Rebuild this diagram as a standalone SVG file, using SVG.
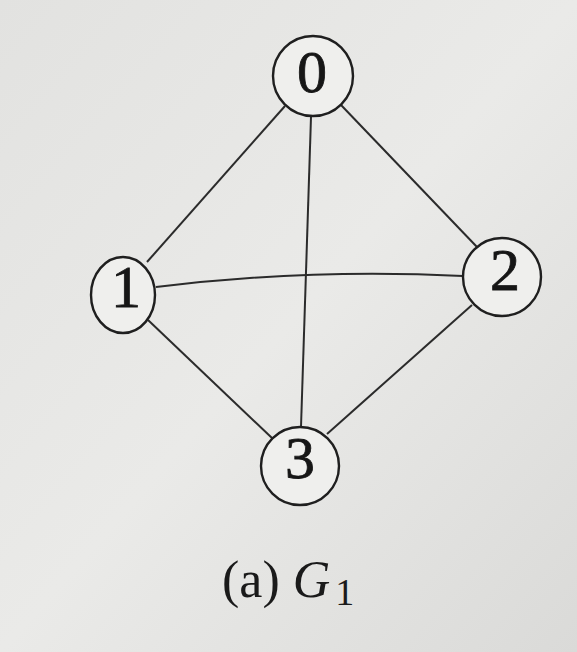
<svg xmlns="http://www.w3.org/2000/svg" width="577" height="652" viewBox="0 0 577 652">
<defs>
<linearGradient id="bg" x1="0" y1="0" x2="1" y2="1">
<stop offset="0" stop-color="#e2e2e0"/>
<stop offset="0.5" stop-color="#eaeae8"/>
<stop offset="1" stop-color="#dadad8"/>
</linearGradient>
</defs>
<style>
.edge{stroke:#2b2b2b;stroke-width:2;fill:none}
.node{stroke:#1f1f1f;stroke-width:2.4;fill:#efefed}
.lbl{font-family:"Liberation Serif",serif;font-size:60px;fill:#161616;stroke:#161616;stroke-width:0.8;text-anchor:middle}
.cap{font-family:"Liberation Serif",serif;font-size:52px;fill:#1a1a1a}
</style>
<rect width="577" height="652" fill="url(#bg)"/>
<g id="edges">
<line class="edge" x1="285" y1="106" x2="147" y2="262"/>
<line class="edge" x1="341" y1="105" x2="477" y2="247"/>
<line class="edge" x1="311" y1="117" x2="301" y2="427"/>
<path class="edge" d="M156,287 Q310,268 463,276"/>
<line class="edge" x1="148" y1="320" x2="272" y2="438"/>
<line class="edge" x1="472" y1="305" x2="327" y2="434"/>
</g>
<g id="node0"><circle class="node" cx="313" cy="76" r="40"/><text class="lbl" x="312" y="92">0</text></g>
<g id="node1"><ellipse class="node" cx="123" cy="295" rx="32" ry="38"/><text class="lbl" x="126" y="307">1</text></g>
<g id="node2"><circle class="node" cx="502" cy="277" r="39"/><text class="lbl" x="505" y="290">2</text></g>
<g id="node3"><circle class="node" cx="300" cy="466" r="39"/><text class="lbl" x="300" y="478">3</text></g>
<g id="caption"><text class="cap" x="222" y="597">(a) <tspan font-style="italic">G</tspan><tspan font-size="38" dx="5" dy="8">1</tspan></text></g>
</svg>
